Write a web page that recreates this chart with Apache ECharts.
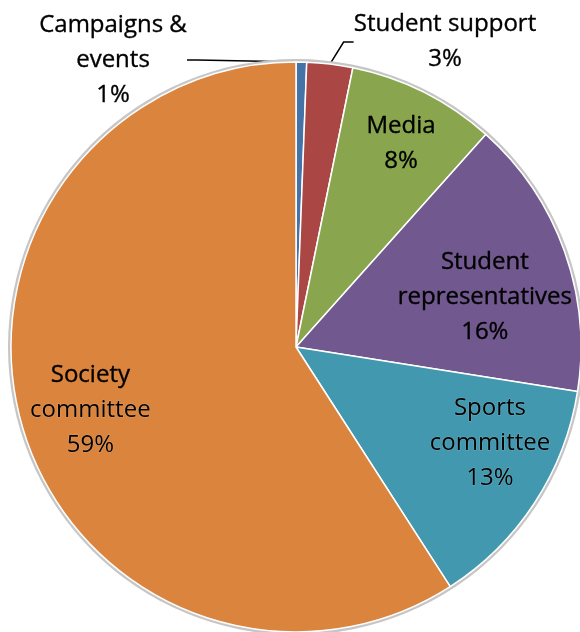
<!DOCTYPE html>
<html>
<head>
<meta charset="utf-8">
<script src="https://cdn.jsdelivr.net/npm/echarts@6/dist/echarts.min.js"></script>
<style>html,body{margin:0;padding:0;background:#fff;}#c{width:580px;height:632px;}</style>
</head>
<body>
<div id="c"></div>
<script>
const categories = ['Campaigns &\nevents', 'Student support', 'Media', 'Student\nrepresentatives', 'Sports\ncommittee', 'Society\ncommittee'];
const values = [0.6, 2.6, 8.4, 15.9, 13.4, 59.1];
const colors = ['#4572A7', '#AA4643', '#89A54E', '#71588F', '#4198AF', '#DB843D'];

const chart = echarts.init(document.getElementById('c'), null, {renderer: 'canvas'});
const font = '"Open Sans", sans-serif';
const center = [296, 347];
const R = 285;

// label nudges (Excel places inner labels a little off the mid-angle)
const nudges = [[0, 0], [0, 0], [7, -8], [-17, 24], [11, -23], [4, 2]];

const mainData = categories.map((name, i) => ({
  name, value: values[i], itemStyle: {color: colors[i]}
}));

const labelData = categories.map((name, i) => ({
  name, value: values[i],
  label: {position: i < 2 ? 'outside' : 'inside'},
  labelLine: {show: i < 2}
}));

function fmt(p) {
  const lines = (p.name + '\n' + Math.round(p.percent) + '%').split('\n');
  return lines.map((t, k) => {
    const thin = p.dataIndex === 4 || (p.dataIndex === 5 && k > 0);
    return '{' + (thin ? 't' : 'b') + '|' + t + '}';
  }).join('\n');
}

chart.setOption({
  animation: false,
  series: [
    {
      type: 'pie', silent: true, center, radius: [R - 2, R + 3],
      startAngle: 90, clockwise: true,
      label: {show: false}, labelLine: {show: false},
      itemStyle: {color: '#c6c6c6'},
      data: [{value: 1, name: 'rim'}]
    },
    {
      type: 'pie', center, radius: [0, R],
      startAngle: 90, clockwise: true, minAngle: 0,
      avoidLabelOverlap: false,
      label: {show: false}, labelLine: {show: false},
      itemStyle: {borderColor: '#ffffff', borderWidth: 1.5},
      data: mainData
    },
    {
      type: 'pie', center, radius: [146, R],
      startAngle: 90, clockwise: true, silent: true,
      avoidLabelOverlap: false,
      itemStyle: {color: 'rgba(0,0,0,0)'},
      label: {
        show: true, color: '#000', fontFamily: font, fontSize: 24, lineHeight: 35,
        align: 'center',
        formatter: fmt,
        rich: {
          b: {color: '#000', fontFamily: font, fontSize: 24, lineHeight: 35, textBorderColor: '#000', textBorderWidth: 0.35},
          t: {color: '#000', fontFamily: font, fontSize: 24, lineHeight: 35, textBorderColor: 'rgba(255,255,255,0.2)', textBorderWidth: 1}
        }
      },
      labelLine: {lineStyle: {color: '#000', width: 1.5}, length: 10, length2: 10},
      labelLayout: function (p) {
        if (p.dataIndex === 0) return {x: 113, y: 60, align: 'center', verticalAlign: 'middle'};
        if (p.dataIndex === 1) return {x: 445, y: 42, align: 'center', verticalAlign: 'middle'};
        const n = nudges[p.dataIndex];
        return {dx: n[0], dy: n[1]};
      },
      data: labelData
    }
  ]
});
</script>
</body>
</html>
